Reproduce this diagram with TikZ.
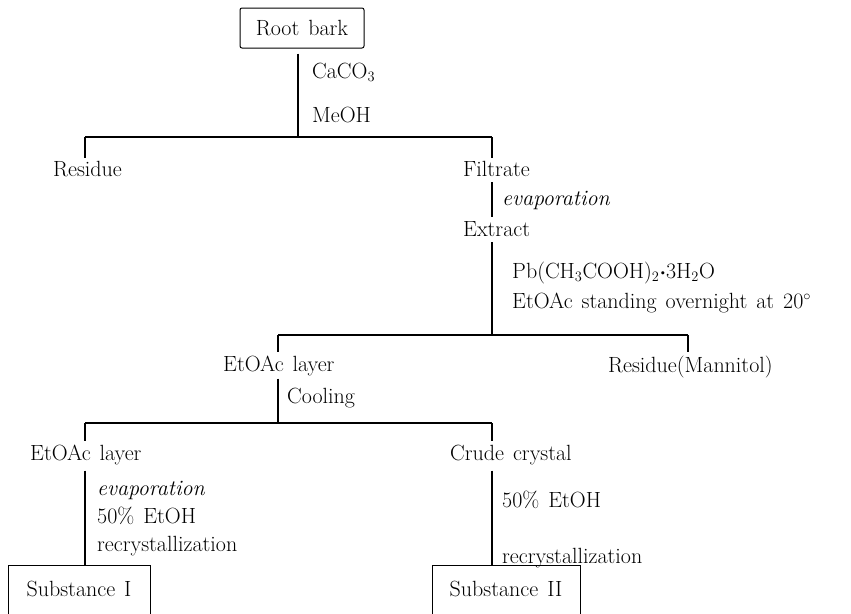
\documentclass[tikz,border=0pt]{standalone}
\usepackage{fontspec}
\setmainfont{Latin Modern Roman}[WordSpace=1.35]
\begin{document}
\begin{tikzpicture}[x=1pt,y=-1pt,
  txtfont/.style={font=\fontsize{22}{26}\selectfont},
  lbl/.style={txtfont, inner sep=0pt, anchor=base west},
  conn/.style={line width=1.2pt, line cap=butt},
  boxnode/.style={txtfont, draw, line width=1pt, inner sep=0pt}]
\clip (0,0) rectangle (851,613);
% root
\node[boxnode, rounded corners=2pt, minimum width=124pt, minimum height=40pt] (root) at (302,28) {Root bark};
\node[lbl] (caco) at (312,78) {CaCO$_3$};
\node[lbl] (meoh) at (312,122) {MeOH};
\coordinate (h1L) at (85,137);
\coordinate (h1M) at (298,137);
\coordinate (h1R) at (492,137);
\draw[conn, shorten <=5pt] (root.south -| h1M) -- (h1M);
\draw[conn] (h1L) -- (h1R);
% level 1
\node[lbl] (residue) at (53,176) {Residue};
\node[lbl] (filtrate) at (463,176) {Filtrate};
\draw[conn, shorten >=3pt] (h1L) -- (h1L |- residue.north);
\draw[conn, shorten >=3pt] (h1R) -- (h1R |- filtrate.north);
\node[lbl] (evap1) at (502,205) {\itshape evaporation};
\node[lbl] (extract) at (463,236) {Extract};
\draw[conn, shorten <=6pt, shorten >=4pt] (h1R |- filtrate.south) -- (h1R |- extract.north);
\node[lbl] (pb) at (512,278) {Pb(CH$_3$COOH)$_2$\mbox{\boldmath$\cdot$}3H$_2$O};
\node[lbl] (stand) at (512,308) {EtOAc standing overnight at 20$^\circ$};
\coordinate (h2L) at (278,335);
\coordinate (h2M) at (492,335);
\coordinate (h2R) at (688,335);
\draw[conn, shorten <=6pt] (h2M |- extract.south) -- (h2M);
\draw[conn] (h2L) -- (h2R);
% level 2
\node[lbl] (layer1) at (223,371) {EtOAc layer};
\node[lbl] (mannitol) at (608,372) {Residue(Mannitol)};
\draw[conn, shorten >=3pt] (h2L) -- (h2L |- layer1.north);
\draw[conn, shorten >=3pt] (h2R) -- (h2R |- mannitol.north);
\node[lbl] (cooling) at (287,403) {Cooling};
\coordinate (h3L) at (85,423);
\coordinate (h3M) at (278,423);
\coordinate (h3R) at (492,423);
\draw[conn, shorten <=3pt] (h3M |- layer1.south) -- (h3M);
\draw[conn] (h3L) -- (h3R);
% level 3
\node[lbl] (layer2) at (30,460) {EtOAc layer};
\node[lbl] (crude) at (450,460) {Crude crystal};
\draw[conn, shorten >=3pt] (h3L) -- (h3L |- layer2.north);
\draw[conn, shorten >=3pt] (h3R) -- (h3R |- crude.north);
\node[lbl] (evap2) at (97,495) {\itshape evaporation};
\node[lbl] (etoh1) at (97,523) {50\% EtOH};
\node[lbl] (recry1) at (97,551) {recrystallization};
\node[lbl] (etoh2) at (502,507) {50\% EtOH};
\node[lbl] (recry2) at (502,563) {recrystallization};
% products
\node[boxnode, anchor=north, minimum width=142pt, text height=31pt, text depth=40pt] (sub1) at (79,565) {Substance I};
\node[boxnode, anchor=north, minimum width=148pt, text height=31pt, text depth=40pt] (sub2) at (506,565) {Substance II};
\draw[conn, shorten <=6pt] (h3L |- layer2.south) -- (h3L |- sub1.north);
\draw[conn, shorten <=6pt] (h3R |- crude.south) -- (h3R |- sub2.north);
\end{tikzpicture}
\end{document}
